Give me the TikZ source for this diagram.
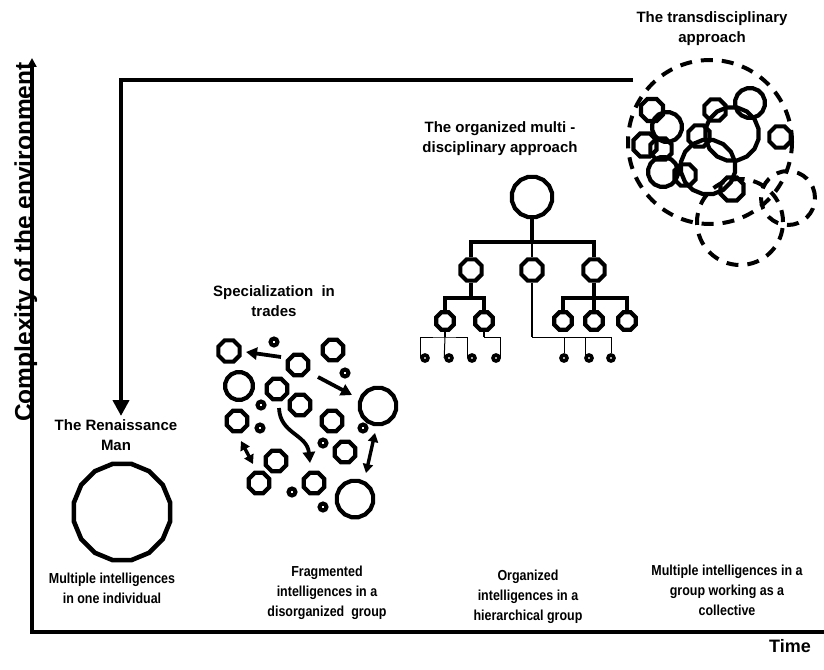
\documentclass[tikz,border=0pt]{standalone}
\usepackage{fontspec}
\setsansfont{Liberation Sans}
\newfontfamily\narrowfont{Liberation Sans}[FakeStretch=0.86]
\usetikzlibrary{shapes.geometric,arrows.meta}
\begin{document}
\begin{tikzpicture}[x=1pt,y=-1pt,
  oct/.style={regular polygon, regular polygon sides=8, draw, line width=4.2pt, inner sep=0pt, minimum size=#1},
  polyc/.style={regular polygon, regular polygon sides=16, draw, line width=4.2pt, inner sep=0pt, minimum size=#1},
  ring/.style={circle, draw, line width=4pt, inner sep=0pt, minimum size=#1},
  dashring/.style={circle, draw, line width=4pt, dash pattern=on 12pt off 9pt, inner sep=0pt, minimum size=#1},
  toplab/.style={font=\sffamily\bfseries\fontsize{15}{20}\selectfont, align=center, inner sep=0pt},
  botlab/.style={font=\narrowfont\bfseries\fontsize{14.5}{20}\selectfont, align=center, inner sep=0pt},
  axis/.style={line width=4pt},
  route/.style={line width=4pt, -{Triangle[length=16pt,width=16pt]}},
  thickbar/.style={line width=3.8pt},
  midline/.style={line width=2.2pt},
  thinline/.style={line width=1pt},
  movearrow/.style={line width=3.8pt, -{Triangle[length=11pt,width=12pt]}},
  bothways/.style={line width=3.4pt, {Triangle[length=9pt,width=10pt]}-{Triangle[length=9pt,width=10pt]}}
]
\useasboundingbox (0,0) rectangle (824,669);

% axes
\coordinate (O) at (32,632);
\coordinate (Ytop) at (32,58);
\coordinate (Xend) at (836,632);
\draw[axis, -{Triangle[length=9pt,width=9pt]}] (O) -- (Ytop);
\draw[axis, -{Triangle[length=12pt,width=12pt]}] ([xshift=-2pt]O) -- (Xend);
\node[font=\sffamily\bfseries\fontsize{24.5}{28}\selectfont, rotate=90, anchor=base, inner sep=0pt] (ylab) at (32,242) {Complexity of the environment};
\node[font=\sffamily\bfseries\fontsize{18}{22}\selectfont, inner sep=0pt] (xlab) at (790,646) {Time};

% route arrow
\coordinate (rStart) at (633,80);
\coordinate (rCorner) at (121,80);
\coordinate (rEnd) at (121,416);
\draw[route] (rStart) -- (rCorner) -- (rEnd);

% titles
\node[toplab] (renT) at (116,435) {The Renaissance\\Man};
\node[toplab] (specT) at (274,301) {Specialization\ \ in\\trades};
\node[toplab] (orgT) at (500,139) {The organized multi -\\disciplinary approach};
\node[toplab] (transT) at (712,29) {The transdisciplinary\\approach};

% bottom captions
\node[botlab] (b1) at (112,588) {Multiple intelligences\\in one individual};
\node[botlab] (b2) at (327,593) {Fragmented\\intelligences in a\\disorganized\ \ group};
\node[botlab] (b3) at (528,597) {Organized\\intelligences in a\\hierarchical group};
\node[botlab] (b4) at (727,590) {Multiple intelligences in a\\group working as a\\collective};

% Renaissance man
\node[polyc=98pt, line width=4.6pt] (ren) at (122,512) {};

% specialization cluster
\node[oct=23pt] (s1) at (229,351) {};
\node[oct=22pt] (s2) at (298,365) {};
\node[oct=22pt] (s3) at (333,350) {};
\node[polyc=28pt] (s4) at (239,386) {};
\node[oct=22pt] (s5) at (277,389) {};
\node[oct=22pt] (s6) at (300,405) {};
\node[oct=22pt] (s7) at (237,421) {};
\node[oct=22pt] (s8) at (332,421) {};
\node[polyc=37pt] (s9) at (378,406) {};
\node[oct=22pt] (s10) at (276,461) {};
\node[oct=22pt] (s11) at (345,452) {};
\node[oct=22pt] (s12) at (259,483) {};
\node[oct=22pt] (s13) at (314,483) {};
\node[polyc=37pt] (s14) at (355,499) {};
\node[ring=7pt] (p1) at (274,342) {};
\node[ring=7pt] (p2) at (345,373) {};
\node[ring=7pt] (p3) at (261,405) {};
\node[ring=7pt] (p4) at (260,428) {};
\node[ring=7pt] (p5) at (363,428) {};
\node[ring=7pt] (p6) at (323,443) {};
\node[ring=7pt] (p7) at (292,492) {};
\node[ring=7pt] (p8) at (323,507) {};
\coordinate (a1s) at (281,357); \coordinate (a1e) at (246,352);
\coordinate (a2s) at (318,377); \coordinate (a2e) at (352,395);
\coordinate (a3s) at (279,408); \coordinate (a3e) at (310,463);
\coordinate (a4s) at (241,441); \coordinate (a4e) at (253,464);
\coordinate (a5s) at (375,433); \coordinate (a5e) at (366,473);
\draw[movearrow] (a1s) -- (a1e);
\draw[movearrow] (a2s) -- (a2e);
\draw[movearrow] (a3s) .. controls (280,434) and (307,434) .. (a3e);
\draw[bothways] (a4s) -- (a4e);
\draw[bothways] (a5s) -- (a5e);

% organized hierarchy
\node[polyc=41pt] (top) at (532,197) {};
\node[oct=23pt] (m1) at (471,270) {};
\node[oct=23pt] (m2) at (532,270) {};
\node[oct=23pt] (m3) at (594,270) {};
\node[oct=19pt] (c1) at (445,321) {};
\node[oct=19pt] (c2) at (484,321) {};
\node[oct=19pt] (c3) at (563,321) {};
\node[oct=19pt] (c4) at (594,321) {};
\node[oct=19pt] (c5) at (627,321) {};
\node[ring=6pt, line width=3.6pt] (d1) at (425,358) {};
\node[ring=6pt, line width=3.6pt] (d2) at (449,358) {};
\node[ring=6pt, line width=3.6pt] (d3) at (472,358) {};
\node[ring=6pt, line width=3.6pt] (d4) at (496,358) {};
\node[ring=6pt, line width=3.6pt] (d5) at (564,358) {};
\node[ring=6pt, line width=3.6pt] (d6) at (589,358) {};
\node[ring=6pt, line width=3.6pt] (d7) at (611,358) {};
\coordinate (bar1) at (532,242);
\coordinate (bar2) at (471,298);
\coordinate (bar3) at (594,298);
\coordinate (bar4) at (445,337);
\coordinate (bar5) at (484,337);
\coordinate (bar6) at (532,337);
\draw[thickbar] (top.south) -- (bar1);
\draw[thickbar] (m1.north) |- (bar1) -| (m3.north);
\draw[midline] (bar1) -- (m2.north);
\draw[thickbar] (m1.south) -- (bar2);
\draw[thickbar] (c1.north) |- (bar2) -| (c2.north);
\draw[thickbar] (m3.south) -- (bar3) -- (c4.north);
\draw[thickbar] (c3.north) |- (bar3) -| (c5.north);
\draw[midline] (c1.south) -- (bar4);
\draw[thinline] (d1.west) |- (bar4) -| (d3.west);
\draw[thinline] (bar4) -- (d2.west);
\draw[midline] (c2.south) -- (bar5);
\draw[thinline] (bar5) -| (d4.east);
\draw[midline] (m2.south) -- (bar6);
\draw[thinline] (bar6) -| (d7.north);
\draw[thinline] (d5.north) -- (d5.north |- bar6);
\draw[thinline] (d6.north west) -- (d6.north west |- bar6);

% transdisciplinary
\node[dashring=164pt] (tbig) at (710,142) {};
\node[dashring=54pt] (tright) at (788,198) {};
\node[dashring=86pt] (tlow) at (740,222) {};
\node[oct=24pt] (t1) at (652,110) {};
\node[polyc=30pt] (t2) at (667,127) {};
\node[oct=25pt] (t3) at (645,145) {};
\node[oct=23pt] (t4) at (661,149) {};
\node[polyc=30pt] (t5) at (663,172) {};
\node[oct=23pt] (t6) at (685,175) {};
\node[oct=23pt] (t7) at (715,110) {};
\node[polyc=30pt] (t8) at (750,103) {};
\node[polyc=54pt] (t9) at (732,134) {};
\node[oct=23pt] (t10) at (699,136) {};
\node[polyc=55pt] (t11) at (708,167) {};
\node[oct=23pt] (t12) at (780,137) {};
\node[oct=25pt] (t13) at (732,189) {};
\end{tikzpicture}
\end{document}
